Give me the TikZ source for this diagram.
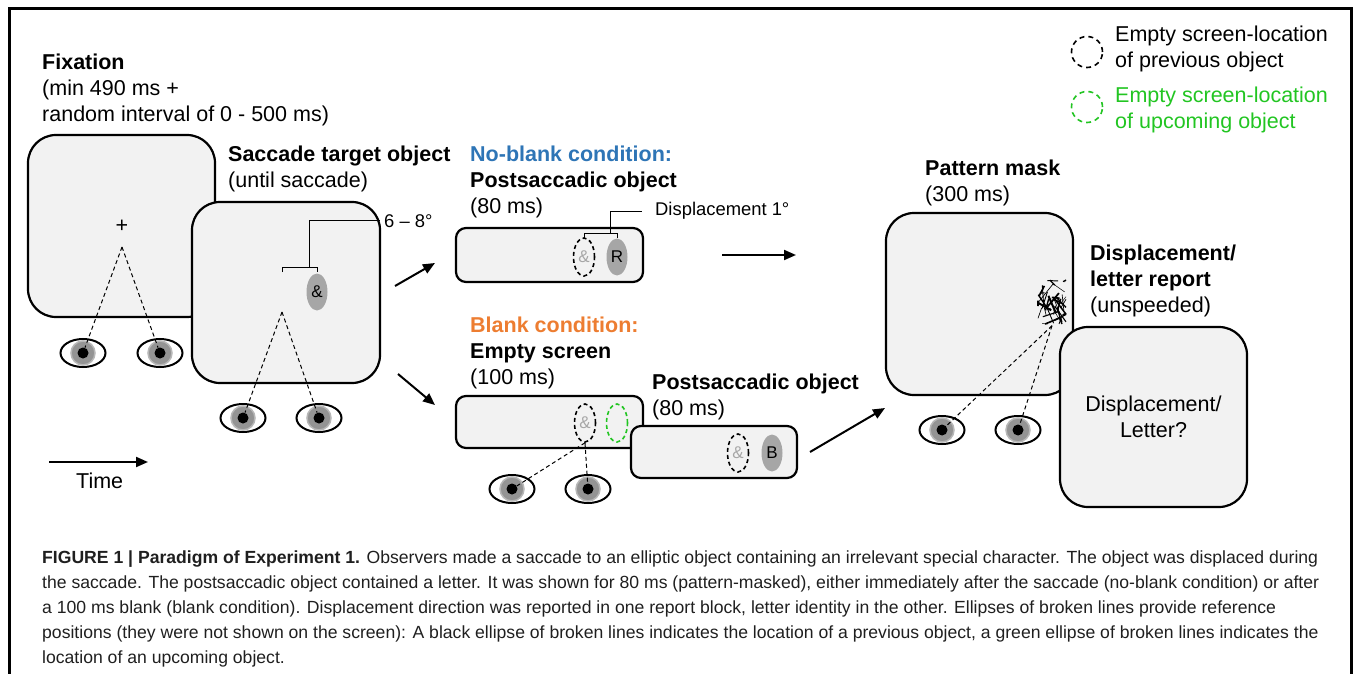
\documentclass[tikz,border=0pt]{standalone}
\usepackage{fontspec}
\setmainfont{Liberation Sans}
\usetikzlibrary{arrows.meta,shapes.geometric}
\definecolor{S}{RGB}{242,242,242}
\definecolor{O}{RGB}{166,166,166}
\definecolor{NB}{RGB}{46,117,182}
\definecolor{BL}{RGB}{237,125,49}
\definecolor{UP}{RGB}{34,197,34}
\tikzstyle{screen} = [draw=black, line width=2.2pt, fill=S, rounded corners=28pt, inner sep=0pt]
\tikzstyle{strip} = [screen, rounded corners=10pt]
\tikzstyle{obj} = [ellipse, fill=O, minimum width=21pt, minimum height=37pt, inner sep=0pt,
  font=\fontsize{17}{20}\selectfont]
\tikzstyle{prev} = [ellipse, draw=black, dash pattern=on 4pt off 3pt, line width=1.6pt,
  minimum width=21pt, minimum height=38pt, inner sep=0pt, text=O, font=\fontsize{17}{20}\selectfont]
\tikzstyle{next} = [prev, draw=UP]
\tikzstyle{lbl} = [anchor=base west, align=left, inner sep=0pt]
\tikzstyle{small} = [font=\fontsize{18.4}{22}\selectfont]
\tikzstyle{eyeball} = [ellipse, draw=black, line width=2pt, fill=white, minimum width=45pt, minimum height=28pt, inner sep=0pt]
\tikzstyle{iris} = [circle, draw=black!28, line width=1.5pt, fill=black!42, minimum size=24pt, inner sep=0pt]
\tikzstyle{pupil} = [circle, fill=black, minimum size=11pt, inner sep=0pt]
\tikzstyle{gaze} = [dash pattern=on 4pt off 3pt, line width=1pt]
\tikzstyle{bracket} = [line width=1pt]
\tikzstyle{arrow} = [->, line width=2pt]

\begin{document}
\begin{tikzpicture}[
  x=1pt, y=-1pt,
  >={Triangle[length=12pt,width=10pt]},
  font=\fontsize{21.5}{26}\selectfont,
]
  \useasboundingbox (0,0) rectangle (1358,674);
  \draw[line width=3pt] (9,680) -- (9,9) -- (1351,9) -- (1351,680);

  % fixation and saccade target
  \node[screen, minimum width=187pt, minimum height=182pt] (fix) at (121.5,226) {};
  \node (cross) at (122,226) {+};
  \coordinate (fixpt) at (122,247);
  \node[screen, minimum width=188pt, minimum height=181pt] (sacc) at (286,292.5) {};
  \node[obj] (amp) at (317,292) {\&};
  \coordinate (saccpt) at (282,312);

  \node[lbl] (fixlab) at (42,122) {\textbf{Fixation}\\(min 490 ms +\\random interval of 0 - 500 ms)};
  \node[lbl] (sacclab) at (228,187) {\textbf{Saccade target object}\\(until saccade)};
  \node[lbl, small] (amplab) at (384,227) {6 – 8°};
  \draw[bracket] (282,272) -- (282,267) -- (317,267) -- (317,272);
  \draw[bracket] (309,267) |- ([xshift=-4pt]amplab.west);

  % no-blank condition
  \node[strip, minimum width=187pt, minimum height=54pt] (nb) at (549.5,255) {};
  \node[prev] (nbprev) at (584,257) {\&};
  \node[obj] (nbobj) at (617,257) {R};
  \node[lbl] (nblab) at (470,214) {\textcolor{NB}{\textbf{No-blank condition:}}\\\textbf{Postsaccadic object}\\(80 ms)};
  \node[lbl, small, anchor=west] (displab) at (655,211) {Displacement 1°};
  \draw[bracket] (584,238) -- (584,233) -- (617,233) -- (617,238);
  \draw[bracket] (610,233) |- ([xshift=-13pt]displab.west);

  % blank condition
  \node[strip, minimum width=187pt, minimum height=52pt] (empty) at (549.5,422) {};
  \node[prev] (emptyprev) at (585,423) {\&};
  \node[next] (emptynext) at (617,423) {};
  \node[strip, minimum width=166pt, minimum height=52pt] (post) at (714,452) {};
  \node[prev] (postprev) at (738,453) {\&};
  \node[obj] (postobj) at (772,453) {B};
  \node[lbl] (blab) at (470,384) {\textcolor{BL}{\textbf{Blank condition:}}\\\textbf{Empty screen}\\(100 ms)};
  \node[lbl] (postlab) at (652,415) {\textbf{Postsaccadic object}\\(80 ms)};

  % mask and report
  \node[screen, minimum width=187pt, minimum height=182pt] (maskscr) at (979.5,304) {};
  \node[minimum width=30pt, minimum height=47pt, inner sep=0pt] (mask) at (1052,302) {};
  \pgfmathsetseed{11}
  \foreach \k in {1,...,40} {
    \pgfmathsetmacro{\xa}{1052+14*rand}
    \pgfmathsetmacro{\ya}{302+22*rand}
    \pgfmathsetmacro{\xb}{max(1038,min(1066,\xa+16*rand))}
    \pgfmathsetmacro{\yb}{max(280,min(324,\ya+20*rand))}
    \pgfmathsetmacro{\lw}{0.4+1.6*rnd}
    \draw[line width=\lw pt] (\xa,\ya) -- (\xb,\yb);
  }
  \node[screen, minimum width=187pt, minimum height=180pt, align=center] (report) at (1153.5,417) {Displacement/\\Letter?};
  \node[lbl] (masklab) at (925,201) {\textbf{Pattern mask}\\(300 ms)};
  \node[lbl] (replab) at (1090,312) {\textbf{Displacement/}\\\textbf{letter report}\\(unspeeded)};

  % eyes
  \foreach \n/\ex/\ey in {e1/83/353, e2/160/353, e3/243/418, e4/319/418,
                          e5/512/489, e6/588/489, e7/942/430, e8/1018/430} {
    \node[eyeball] (\n) at (\ex,\ey) {};
    \node[iris] at (\ex,\ey) {};
    \node[pupil] (\n-p) at (\ex,\ey) {};
  }
  \draw[gaze] (fixpt) -- (e1-p);
  \draw[gaze] (fixpt) -- (e2-p);
  \draw[gaze] (saccpt) -- (e3-p);
  \draw[gaze] (saccpt) -- (e4-p);
  \draw[gaze] (emptyprev.south) -- (e5-p);
  \draw[gaze] (emptyprev.south) -- (e6-p);
  \draw[gaze] (mask.south) -- (e7-p);
  \draw[gaze] (mask.south) -- (e8-p);

  % arrows
  \coordinate (a1) at (395,286); \coordinate (b1) at (435,263);
  \coordinate (a2) at (398,374); \coordinate (b2) at (435,405);
  \coordinate (a3) at (722,255); \coordinate (b3) at (796,255);
  \coordinate (a4) at (810,452); \coordinate (b4) at (885,408);
  \coordinate (t0) at (49,462);  \coordinate (t1) at (148,462);
  \draw[arrow] (a1) -- (b1);
  \draw[arrow] (a2) -- (b2);
  \draw[arrow] (a3) -- (b3);
  \draw[arrow] (a4) -- (b4);
  \draw[arrow] (t0) -- (t1);
  \node[lbl] (time) at (76,488) {Time};

  % legend
  \node[prev, circle, minimum size=31pt, dash pattern=on 5pt off 4pt] (legprev) at (1087,52) {};
  \node[next, circle, minimum size=31pt, dash pattern=on 5pt off 4pt] (legnext) at (1087,107) {};
  \node[lbl] (legprevlab) at (1115,68) {Empty screen-location\\of previous object};
  \node[lbl, text=UP] (legnextlab) at (1115,129) {Empty screen-location\\of upcoming object};

  % caption
  \node[lbl, font=\fontsize{17.6}{25}\selectfont, text=black!88] (caption) at (42,663) {\textbf{FIGURE 1 | Paradigm of Experiment 1.} Observers made a saccade to an elliptic object containing an irrelevant special character. The object was displaced during\\
the saccade. The postsaccadic object contained a letter. It was shown for 80 ms (pattern-masked), either immediately after the saccade (no-blank condition) or after\\
a 100 ms blank (blank condition). Displacement direction was reported in one report block, letter identity in the other. Ellipses of broken lines provide reference\\
positions (they were not shown on the screen): A black ellipse of broken lines indicates the location of a previous object, a green ellipse of broken lines indicates the\\
location of an upcoming object.};
\end{tikzpicture}
\end{document}
